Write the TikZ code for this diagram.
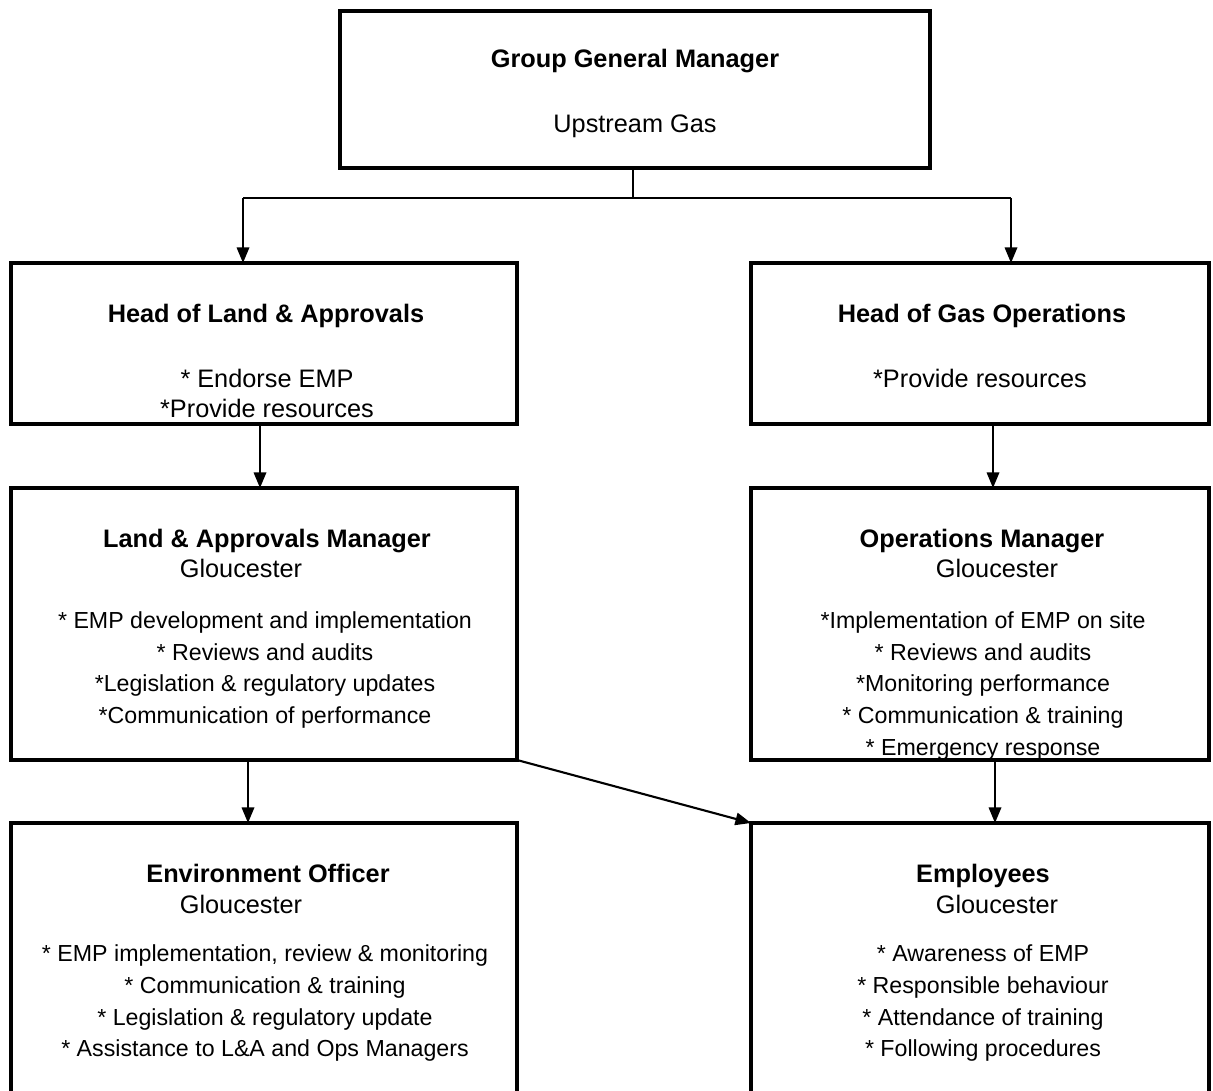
\documentclass[tikz,border=0pt]{standalone}
\usepackage{fontspec}
\setmainfont{Liberation Sans}
\usetikzlibrary{arrows.meta,positioning}

\begin{document}
\begin{tikzpicture}[
    box/.style={rectangle, draw=black, line width=2.4pt, minimum width=12.65cm,
        minimum height=4.025cm, inner sep=0pt, outer sep=0pt},
    title/.style={font=\fontsize{18}{21}\selectfont\bfseries, anchor=base, inner sep=0pt},
    place/.style={font=\fontsize{18}{21.3}\selectfont, anchor=base, inner sep=0pt},
    duty/.style={font=\fontsize{16.5}{22.6}\selectfont, anchor=north, inner sep=0pt, align=center},
    arr/.style={-{Triangle[length=3.9mm, width=3.1mm]}, line width=1.5pt},
    link/.style={line width=1pt}
]
    \clip (0,0) rectangle (30.325,-27.275);

    % boxes
    \node[box, minimum width=14.75cm, minimum height=3.925cm] (gm) at (15.875,-2.2375) {};
    \node[box] (hla) at (6.6,-8.5875) {};
    \node[box, minimum width=11.45cm] (hgo) at (24.5,-8.5875) {};
    \node[box, minimum height=6.8cm] (lam) at (6.6,-15.6) {};
    \node[box, minimum width=11.45cm, minimum height=6.8cm] (opm) at (24.5,-15.6) {};
    \node[box, minimum height=7.425cm] (env) at (6.6,-24.2875) {};
    \node[box, minimum width=11.45cm, minimum height=7.425cm] (emp) at (24.5,-24.2875) {};

    % texts
    \node[title] (gmtitle) at (15.875,-1.68) {Group General Manager};
    \node[place] (gmsub) at (15.875,-3.3) {Upstream Gas};

    \node[title] (hlatitle) at (6.65,-8.05) {Head of Land \& Approvals};
    \node[place, anchor=north, align=center, font=\fontsize{18}{21.3}\selectfont] (hladuty) at (6.675,-9.22)
        {* Endorse EMP\\*Provide resources};

    \node[title] (hgotitle) at (24.55,-8.05) {Head of Gas Operations};
    \node[place] (hgoduty) at (24.5,-9.68) {*Provide resources};

    \node[title] (lamtitle) at (6.675,-13.68) {Land \& Approvals Manager};
    \node[place] (lamsub) at (6.025,-14.43) {Gloucester};
    \node[duty] (lamduty) at (6.625,-15.28)
        {* EMP development and implementation\\* Reviews and audits\\*Legislation \& regulatory updates\\*Communication of performance};

    \node[title] (opmtitle) at (24.55,-13.68) {Operations Manager};
    \node[place] (opmsub) at (24.925,-14.43) {Gloucester};
    \node[duty] (opmduty) at (24.575,-15.28)
        {*Implementation of EMP on site\\* Reviews and audits\\*Monitoring performance\\* Communication \& training\\* Emergency response};

    \node[title] (envtitle) at (6.7,-22.05) {Environment Officer};
    \node[place] (envsub) at (6.025,-22.83) {Gloucester};
    \node[duty] (envduty) at (6.625,-23.61)
        {* EMP implementation, review \& monitoring\\* Communication \& training\\* Legislation \& regulatory update\\* Assistance to L\&A and Ops Managers};

    \node[title] (emptitle) at (24.575,-22.05) {Employees};
    \node[place] (empsub) at (24.925,-22.83) {Gloucester};
    \node[duty] (empduty) at (24.575,-23.61)
        {* Awareness of EMP\\* Responsible behaviour\\* Attendance of training\\* Following procedures};

    % connectors
    \coordinate (split) at (15.825,-4.95);
    \coordinate (lturn) at (6.075,-4.95);
    \coordinate (rturn) at (25.275,-4.95);
    \draw[link] (gm.south -| split) -- (split);
    \draw[link] (lturn) -- (rturn);
    \draw[arr] (lturn) -- (lturn |- hla.north);
    \draw[arr] (rturn) -- (rturn |- hgo.north);

    \draw[arr] ([xshift=-0.1cm]hla.south) -- ([xshift=-0.1cm]lam.north);
    \draw[arr] ([xshift=0.325cm]hgo.south) -- ([xshift=0.325cm]opm.north);
    \draw[arr] ([xshift=-0.4cm]lam.south) -- ([xshift=-0.4cm]env.north);
    \draw[arr] ([xshift=0.375cm]opm.south) -- ([xshift=0.375cm]emp.north);
    \draw[arr] (lam.south east) -- (emp.north west);
\end{tikzpicture}
\end{document}
